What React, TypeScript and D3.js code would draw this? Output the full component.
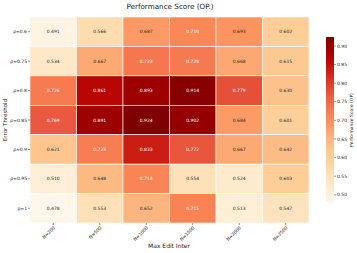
import React from "react";
import * as d3 from "d3";

const rowLabels = ["ρ=0.6", "ρ=0.75", "ρ=0.8", "ρ=0.85", "ρ=0.9", "ρ=0.95", "ρ=1"];
const colLabels = ["N=200", "N=500", "N=1000", "N=1500", "N=2000", "N=2500"];
const values: number[][] = [
  [0.491, 0.566, 0.687, 0.71, 0.693, 0.602],
  [0.534, 0.667, 0.733, 0.728, 0.668, 0.615],
  [0.726, 0.861, 0.893, 0.914, 0.779, 0.63],
  [0.769, 0.891, 0.924, 0.902, 0.684, 0.601],
  [0.621, 0.723, 0.833, 0.772, 0.667, 0.642],
  [0.51, 0.648, 0.714, 0.554, 0.524, 0.603],
  [0.478, 0.553, 0.652, 0.715, 0.513, 0.547],
];
const cbTicks = [0.5, 0.55, 0.6, 0.65, 0.7, 0.75, 0.8, 0.85, 0.9];
const orrd = ["#fff7ec", "#fee8c8", "#fdd49e", "#fdbb84", "#fc8d59", "#ef6548", "#d7301f", "#b30000", "#7f0000"];

const W = 357, H = 253;
const left = 30, right = 309, top = 17, bottom = 223;
const cbX = 326, cbW = 8, cbTop = 37, cbBottom = 203;

export default function App() {
  const all = values.flat();
  const vmin = d3.min(all)!, vmax = d3.max(all)!;
  const color = d3.scaleLinear<string>()
    .domain(orrd.map((_, i) => vmin + (i / (orrd.length - 1)) * (vmax - vmin)))
    .range(orrd)
    .interpolate(d3.interpolateRgb);
  const x = d3.scaleBand().domain(colLabels).range([left, right]);
  const y = d3.scaleBand().domain(rowLabels).range([top, bottom]);
  const cy = d3.scaleLinear().domain([vmin, vmax]).range([cbBottom, cbTop]);
  const font = "DejaVu Sans, sans-serif";
  const lum = (c: string) => {
    const r = d3.rgb(c);
    const f = (v: number) => { v /= 255; return v <= 0.03928 ? v / 12.92 : Math.pow((v + 0.055) / 1.055, 2.4); };
    return 0.2126 * f(r.r) + 0.7152 * f(r.g) + 0.0722 * f(r.b);
  };
  const gradStops = d3.range(0, 1.0001, 0.05);
  return (
    <svg width={W} height={H} style={{ position: "absolute", left: 0, top: 0, background: "#fff", WebkitFontSmoothing: "antialiased" } as any} fontFamily={font} textRendering="geometricPrecision">
      <defs>
        <linearGradient id="cb" x1="0" y1="1" x2="0" y2="0">
          {gradStops.map((t) => (
            <stop key={t} offset={t} stopColor={color(vmin + t * (vmax - vmin))} />
          ))}
        </linearGradient>
      </defs>
      <text x={170} y={9} textAnchor="middle" fontSize={7.2} fill="#222">Performance Score (OP.)</text>
      {values.map((row, i) =>
        row.map((v, j) => {
          const c = color(v);
          const xx = x(colLabels[j])!, yy = y(rowLabels[i])!;
          return (
            <g key={`${i}-${j}`}>
              <rect x={xx} y={yy} width={x.bandwidth()} height={y.bandwidth()} fill={c} stroke="#fff" strokeWidth={0.6} />
              <text x={xx + x.bandwidth() / 2} y={yy + y.bandwidth() / 2} dy="0.35em" textAnchor="middle" fontSize={4.5}
                fill={lum(c) > 0.408 ? "#262626" : "#ffffff"}>{v.toFixed(3)}</text>
            </g>
          );
        })
      )}
      {rowLabels.map((r) => {
        const yy = y(r)! + y.bandwidth() / 2;
        return (
          <g key={r}>
            <line x1={left - 2} x2={left} y1={yy} y2={yy} stroke="#333" strokeWidth={0.5} />
            <text x={left - 3} y={yy} dy="0.35em" textAnchor="end" fontSize={4.5} fill="#222">{r}</text>
          </g>
        );
      })}
      {colLabels.map((c) => {
        const xx = x(c)! + x.bandwidth() / 2;
        return (
          <g key={c}>
            <line x1={xx} x2={xx} y1={bottom} y2={bottom + 2} stroke="#333" strokeWidth={0.5} />
            <text transform={`translate(${xx + 1},${bottom + 4}) rotate(-45)`} textAnchor="end" dy="0.35em" fontSize={4.5} fill="#222">{c}</text>
          </g>
        );
      })}
      <text transform={`translate(5.5,${(top + bottom) / 2}) rotate(-90)`} textAnchor="middle" dy="0.35em" fontSize={5.5} fill="#222">Error Threshold</text>
      <text x={169} y={248} textAnchor="middle" fontSize={6} fill="#222">Max Edit Inter</text>
      <rect x={cbX} y={cbTop} width={cbW} height={cbBottom - cbTop} fill="url(#cb)" />
      {cbTicks.map((t) => (
        <g key={t}>
          <line x1={cbX + cbW} x2={cbX + cbW + 2} y1={cy(t)} y2={cy(t)} stroke="#333" strokeWidth={0.5} />
          <text x={cbX + cbW + 3} y={cy(t)} dy="0.35em" fontSize={4.5} fill="#222">{t.toFixed(2)}</text>
        </g>
      ))}
      <text transform={`translate(351,${(cbTop + cbBottom) / 2}) rotate(-90)`} textAnchor="middle" dy="0.35em" fontSize={4.5} fill="#222">Performance Score (OP)</text>
    </svg>
  );
}
